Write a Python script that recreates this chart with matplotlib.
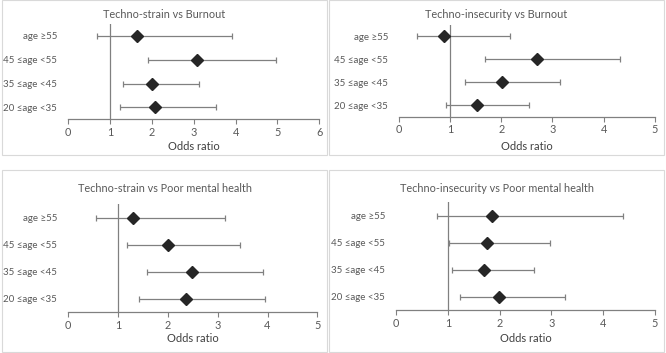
import matplotlib
matplotlib.use("Agg")
import matplotlib.pyplot as plt
from matplotlib.patches import Rectangle

plt.rcParams['font.family'] = ['Lato', 'DejaVu Sans']

categories = ["20 \u2264age <35", "35 \u2264age <45", "45 \u2264age <55", "age \u226555"]

titles = ["Techno-strain vs Burnout", "Techno-insecurity vs Burnout",
          "Techno-strain vs Poor mental health", "Techno-insecurity vs Poor mental health"]

# values listed in category order: 20-35, 35-45, 45-55, >=55
ts_burn_or = [2.08, 2.00, 3.07, 1.65]
ts_burn_lo = [1.24, 1.31, 1.90, 0.69]
ts_burn_hi = [3.54, 3.12, 4.97, 3.91]

ti_burn_or = [1.52, 2.02, 2.70, 0.88]
ti_burn_lo = [0.91, 1.30, 1.69, 0.36]
ti_burn_hi = [2.55, 3.14, 4.32, 2.17]

ts_mh_or = [2.37, 2.49, 2.01, 1.29]
ts_mh_lo = [1.41, 1.59, 1.18, 0.55]
ts_mh_hi = [3.94, 3.90, 3.45, 3.15]

ti_mh_or = [1.99, 1.70, 1.75, 1.85]
ti_mh_lo = [1.23, 1.08, 1.02, 0.78]
ti_mh_hi = [3.26, 2.67, 2.97, 4.39]

xmaxes = [6, 5, 5, 5]
series = [(ts_burn_or, ts_burn_lo, ts_burn_hi), (ti_burn_or, ti_burn_lo, ti_burn_hi),
          (ts_mh_or, ts_mh_lo, ts_mh_hi), (ti_mh_or, ti_mh_lo, ti_mh_hi)]

W, H = 666, 353
fig = plt.figure(figsize=(W / 100, H / 100), dpi=100)
fig.patch.set_facecolor('white')

# panel frames (pixel coords: x0, y0_top, x1, y1_bottom)
panels = [(2, 0, 327, 155), (329, 0, 664, 155), (2, 170, 327, 352), (329, 170, 664, 352)]
for (x0, y0, x1, y1) in panels:
    fig.patches.append(Rectangle((x0 / W, 1 - y1 / H), (x1 - x0) / W, (y1 - y0) / H,
                                 transform=fig.transFigure, facecolor='none',
                                 edgecolor='#d9d9d9', linewidth=0.8, zorder=-5))

# axes pixel boxes: left, right, top, bottom
boxes = [(68.3, 319.3, 24, 119.3), (399, 654.7, 25, 116.7),
         (68.3, 317.3, 204, 312), (396.3, 654.7, 202, 310)]
title_y = [14, 14, 189, 189]
xlabel_y = [146, 146, 339, 339]

gray = '#595959'
linec = '#808080'
for i in range(4):
    l, r, t, b = boxes[i]
    ax = fig.add_axes([l / W, 1 - b / H, (r - l) / W, (b - t) / H])
    ax.set_zorder(2)
    orv, lo, hi = series[i]
    ypos = list(range(len(categories)))
    xerr = [[o - a for o, a in zip(orv, lo)], [h - o for o, h in zip(orv, hi)]]
    ax.errorbar(orv, ypos, xerr=xerr, fmt='none', ecolor=linec, elinewidth=0.9,
                capsize=2.5, capthick=0.9, zorder=2)
    ax.plot(orv, ypos, linestyle='none', marker='D', markersize=5.8,
            color='#262626', zorder=3)
    ax.axvline(1, color=linec, linewidth=0.9, zorder=1)
    ax.set_xlim(0, xmaxes[i])
    ax.set_ylim(-0.5, 3.5)
    ax.set_xticks(range(xmaxes[i] + 1))
    ax.set_yticks(ypos)
    ax.set_yticklabels(categories)
    for s in ['top', 'right', 'left']:
        ax.spines[s].set_visible(False)
    ax.spines['bottom'].set_color(linec)
    ax.spines['bottom'].set_linewidth(0.9)
    ax.tick_params(axis='x', direction='out', length=3.5, width=0.8, color=linec,
                   labelsize=7.8, labelcolor=gray, pad=2)
    ax.tick_params(axis='y', length=0, labelsize=7.0, labelcolor=gray, pad=8)
    ax.set_facecolor('none')
    cx = (panels[i][0] + panels[i][2]) / 2
    fig.text(cx / W, 1 - title_y[i] / H, titles[i], ha='center', va='center',
             fontsize=7.8, color=gray)
    fig.text(((l + r) / 2) / W, 1 - xlabel_y[i] / H, "Odds ratio", ha='center',
             va='center', fontsize=8.0, color='#404040')

fig.savefig('out.png', dpi=100)
